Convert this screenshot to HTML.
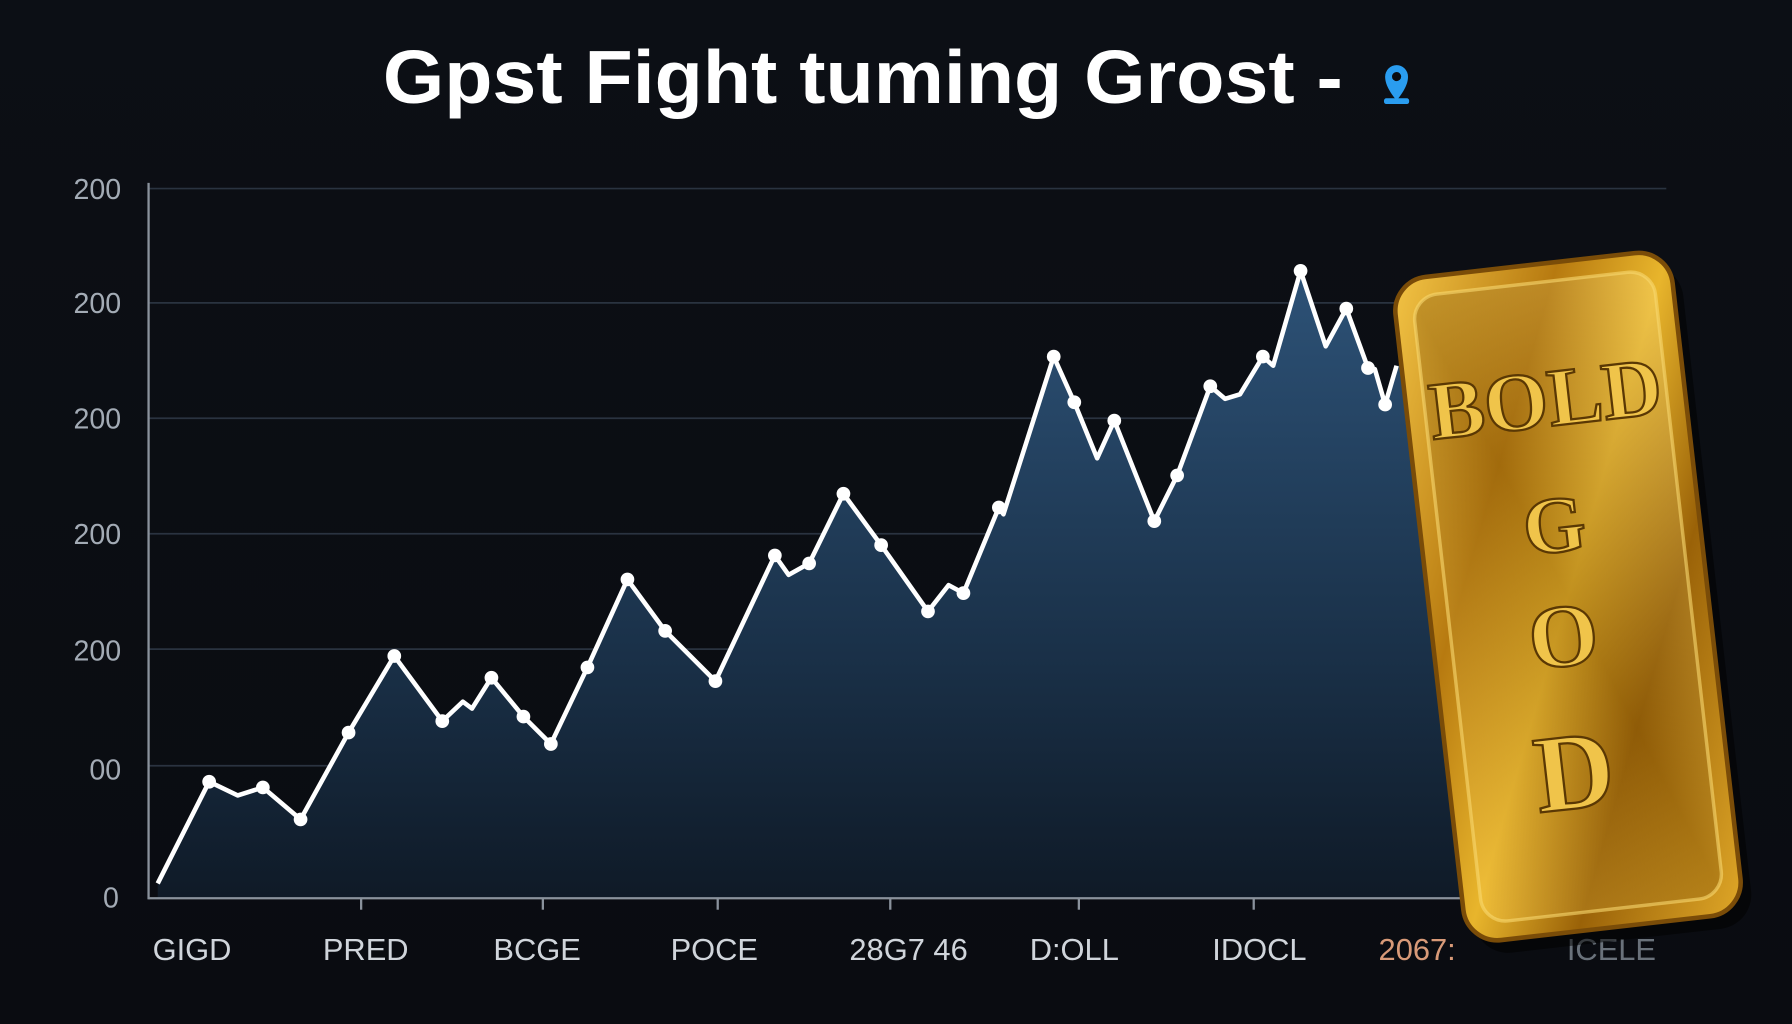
<!DOCTYPE html>
<html><head><style>
html,body{margin:0;padding:0;background:#0b0d12;}
svg{display:block}
</style></head><body>
<svg width="1792" height="1024" viewBox="0 0 1568 896" xmlns="http://www.w3.org/2000/svg">
<defs>
<linearGradient id="bg" x1="0" y1="0" x2="0" y2="1"><stop offset="0" stop-color="#0c0f15"/><stop offset="1" stop-color="#0a0c11"/></linearGradient>
<linearGradient id="area" x1="0" y1="0" x2="0" y2="1"><stop offset="0" stop-color="#2d5277"/><stop offset="0.6" stop-color="#1a3149"/><stop offset="1" stop-color="#0f1a27"/></linearGradient>
<linearGradient id="gold" x1="0" y1="0" x2="1" y2="1"><stop offset="0" stop-color="#f3c445"/><stop offset="0.3" stop-color="#b77a10"/><stop offset="0.5" stop-color="#e8b52c"/><stop offset="0.7" stop-color="#9a6208"/><stop offset="1" stop-color="#e0a828"/></linearGradient>
<linearGradient id="gold2" x1="1" y1="0" x2="0" y2="1"><stop offset="0" stop-color="#ffe07a" stop-opacity="0.4"/><stop offset="0.5" stop-color="#7a4e05" stop-opacity="0.35"/><stop offset="1" stop-color="#ffd050" stop-opacity="0.35"/></linearGradient>
</defs>
<rect width="1568" height="896" fill="url(#bg)"/>
<text x="335" y="90" textLength="840" lengthAdjust="spacingAndGlyphs" font-family="Liberation Sans, sans-serif" font-weight="bold" font-size="66" fill="#fff">Gpst Fight tuming Grost -</text>
<path d="M1222,88 C1214,78 1212,72 1212,67 A10,10 0 1 1 1232,67 C1232,72 1230,78 1222,88 Z" fill="#2a9df0"/><circle cx="1222" cy="67" r="4" fill="#0b0d12"/><rect x="1211" y="86" width="22" height="5" rx="2" fill="#2a9df0"/>
<g stroke="#2a3340" stroke-width="1.5">
<line x1="130" y1="165" x2="1458" y2="165"/><line x1="130" y1="265" x2="1458" y2="265"/><line x1="130" y1="366" x2="1458" y2="366"/><line x1="130" y1="467" x2="1458" y2="467"/><line x1="130" y1="568" x2="1458" y2="568"/><line x1="130" y1="670" x2="1458" y2="670"/>
</g>
<g font-family="Liberation Sans, sans-serif" font-size="25" fill="#a3abb5" text-anchor="end">
<text x="106" y="174">200</text><text x="106" y="274">200</text><text x="106" y="375">200</text><text x="106" y="476">200</text><text x="106" y="578">200</text><text x="106" y="682">00</text><text x="104" y="794">0</text>
</g>
<polygon fill="url(#area)" points="138,773 183,684 208,696 230,689 263,717 305,641 345,574 387,631 405,614 413,620 430,593 458,627 482,651 514,584 549,507 582,552 626,596 678,486 690,503 708,493 738,432 771,477 812,535 830,512 843,519 874,444 878,450 922,312 940,352 960,401 975,368 1010,456 1030,416 1059,338 1072,349 1085,345 1105,312 1114,320 1138,237 1160,303 1178,270 1197,322 1203,323 1212,354 1222,320 1290,320 1290,786 138,786"/>
<polyline fill="none" stroke="#fff" stroke-width="4" stroke-linejoin="round" points="138,773 183,684 208,696 230,689 263,717 305,641 345,574 387,631 405,614 413,620 430,593 458,627 482,651 514,584 549,507 582,552 626,596 678,486 690,503 708,493 738,432 771,477 812,535 830,512 843,519 874,444 878,450 922,312 940,352 960,401 975,368 1010,456 1030,416 1059,338 1072,349 1085,345 1105,312 1114,320 1138,237 1160,303 1178,270 1197,322 1203,323 1212,354 1222,320"/>
<g fill="#fff"><circle cx="183" cy="684" r="6"/><circle cx="230" cy="689" r="6"/><circle cx="263" cy="717" r="6"/><circle cx="305" cy="641" r="6"/><circle cx="345" cy="574" r="6"/><circle cx="387" cy="631" r="6"/><circle cx="430" cy="593" r="6"/><circle cx="458" cy="627" r="6"/><circle cx="482" cy="651" r="6"/><circle cx="514" cy="584" r="6"/><circle cx="549" cy="507" r="6"/><circle cx="582" cy="552" r="6"/><circle cx="626" cy="596" r="6"/><circle cx="678" cy="486" r="6"/><circle cx="708" cy="493" r="6"/><circle cx="738" cy="432" r="6"/><circle cx="771" cy="477" r="6"/><circle cx="812" cy="535" r="6"/><circle cx="843" cy="519" r="6"/><circle cx="874" cy="444" r="6"/><circle cx="922" cy="312" r="6"/><circle cx="940" cy="352" r="6"/><circle cx="975" cy="368" r="6"/><circle cx="1010" cy="456" r="6"/><circle cx="1030" cy="416" r="6"/><circle cx="1059" cy="338" r="6"/><circle cx="1105" cy="312" r="6"/><circle cx="1138" cy="237" r="6"/><circle cx="1178" cy="270" r="6"/><circle cx="1197" cy="322" r="6"/><circle cx="1212" cy="354" r="6"/></g>
<line x1="130" y1="160" x2="130" y2="787" stroke="#8a929c" stroke-width="2"/>
<line x1="130" y1="786" x2="1300" y2="786" stroke="#8a929c" stroke-width="2"/>
<g stroke="#8a929c" stroke-width="2"><line x1="316" y1="786" x2="316" y2="796"/><line x1="475" y1="786" x2="475" y2="796"/><line x1="628" y1="786" x2="628" y2="796"/><line x1="779" y1="786" x2="779" y2="796"/><line x1="944" y1="786" x2="944" y2="796"/><line x1="1097" y1="786" x2="1097" y2="796"/></g>
<g font-family="Liberation Sans, sans-serif" font-size="27" fill="#d0d5db" text-anchor="middle">
<text x="168" y="840">GIGD</text><text x="320" y="840">PRED</text><text x="470" y="840">BCGE</text><text x="625" y="840">POCE</text><text x="795" y="840">28G7 46</text><text x="940" y="840">D:OLL</text><text x="1102" y="840">IDOCL</text><text x="1240" y="840" fill="#d89a78">2067:</text><text x="1410" y="840" fill="#6a727b">ICELE</text>
</g>
<g transform="translate(1372,522) rotate(-6.5)">
<rect x="-122" y="-292" width="244" height="584" rx="30" fill="#000" opacity="0.5" transform="translate(8,12)"/>
<rect x="-122" y="-292" width="244" height="584" rx="30" fill="url(#gold)" stroke="#7a4c08" stroke-width="4"/>
<rect x="-106" y="-276" width="212" height="552" rx="22" fill="url(#gold2)" stroke="#f8d870" stroke-width="3" stroke-opacity="0.6"/>
<g font-family="Liberation Serif, serif" font-weight="bold" fill="#f0c44a" stroke="#5a3804" stroke-width="2" text-anchor="middle">
<text x="0" y="-150" font-size="72">BOLD</text>
<text x="-5" y="-40" font-size="70">G</text>
<text x="-8" y="60" font-size="78">O</text>
<text x="-12" y="185" font-size="96">D</text>
</g>
</g>
</svg>
</body></html>
